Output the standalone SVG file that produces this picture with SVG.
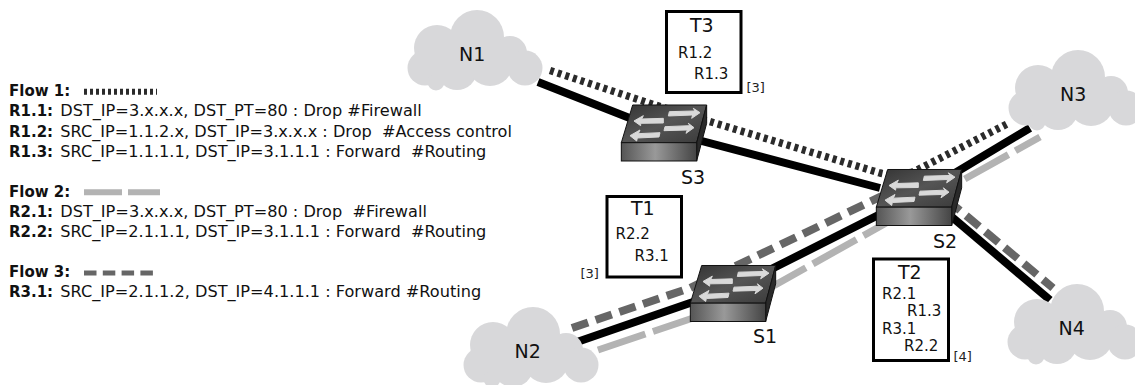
<svg xmlns="http://www.w3.org/2000/svg" width="1135" height="385" viewBox="0 0 1135 385">
<style>
text{font-family:"DejaVu Sans",sans-serif;fill:#111;white-space:pre}
.leg{font-size:16.15px}
.leg .b{font-weight:bold;font-size:15px}
.big{font-size:19px}
.rule{font-size:15px}
.note{font-size:13px;fill:#222}
.box{fill:#fff;stroke:#000;stroke-width:3}
.link{fill:none;stroke:#000;stroke-width:8}
.f1{fill:none;stroke:#2b2b2b;stroke-width:7.5;stroke-dasharray:4 4}
.f2{fill:none;stroke:#b3b3b3;stroke-width:7;stroke-dasharray:50 8}
.f3{fill:none;stroke:#666;stroke-width:8;stroke-dasharray:17 8}
</style>
<defs>
<linearGradient id="top" x1="0" y1="0" x2="1" y2="1"><stop offset="0" stop-color="#333"/><stop offset=".5" stop-color="#555"/><stop offset="1" stop-color="#3a3a3a"/></linearGradient>
<linearGradient id="front" x1="0" y1="0" x2="1" y2="0"><stop offset="0" stop-color="#555"/><stop offset=".45" stop-color="#999"/><stop offset="1" stop-color="#444"/></linearGradient>
<g id="cloud" fill="#d8d8da">
<circle cx="477" cy="37" r="27"/><circle cx="437" cy="48" r="23"/><circle cx="425" cy="68" r="17.5"/><circle cx="436" cy="82" r="8.5"/><circle cx="457" cy="70" r="20"/><circle cx="490" cy="63" r="23"/><circle cx="510" cy="53" r="17"/><circle cx="525" cy="68" r="17.5"/><rect x="430" y="40" width="85" height="35"/>
</g>
<g id="switch" transform="scale(.33333)" stroke="#111" stroke-width="3">
<path d="M68,30H290L260,143H34Z" fill="url(#top)"/>
<path d="M290,30V85L260,198V143Z" fill="#2a2a2a"/>
<rect x="34" y="143" width="226" height="55" fill="url(#front)"/>
<g fill="#d9d9d9" stroke="#d9d9d9" stroke-width="3">
<path d="M178,50L255,48L250,40L270,53L245,70L248,60L175,63Z"/>
<path d="M160,70L95,72L100,62L72,78L92,92L92,85L160,84Z"/>
<path d="M165,95L240,92L235,85L252,98L228,115L232,105L162,107Z"/>
<path d="M150,113L85,116L90,105L60,122L80,138L82,129L147,126Z"/>
</g>
</g>
</defs>
<g id="legend">
<text class="leg" x="9" y="96"><tspan class="b">Flow 1:</tspan></text>
<path class="f1" style="stroke-width:6;stroke-dasharray:3 3" d="M84,91.7H157"/>
<text class="leg" x="9" y="116"><tspan class="b">R1.1:</tspan><tspan dx="2"> DST_IP=3.x.x.x, DST_PT=80 : Drop #Firewall</tspan></text>
<text class="leg" x="9" y="136.5"><tspan class="b">R1.2:</tspan><tspan dx="2"> SRC_IP=1.1.2.x, DST_IP=3.x.x.x : Drop  #Access control</tspan></text>
<text class="leg" x="9" y="157"><tspan class="b">R1.3:</tspan><tspan dx="2"> SRC_IP=1.1.1.1, DST_IP=3.1.1.1 : Forward  #Routing</tspan></text>
<text class="leg" x="9" y="197"><tspan class="b">Flow 2:</tspan></text>
<path class="f2" style="stroke-width:6;stroke-dasharray:38 6" d="M84,192.3H160"/>
<text class="leg" x="9" y="216.5"><tspan class="b">R2.1:</tspan><tspan dx="2"> DST_IP=3.x.x.x, DST_PT=80 : Drop  #Firewall</tspan></text>
<text class="leg" x="9" y="237"><tspan class="b">R2.2:</tspan><tspan dx="2"> SRC_IP=2.1.1.1, DST_IP=3.1.1.1 : Forward  #Routing</tspan></text>
<text class="leg" x="9" y="277"><tspan class="b">Flow 3:</tspan></text>
<path class="f3" style="stroke-width:5;stroke-dasharray:12.5 6.3" d="M84,273H154"/>
<text class="leg" x="9" y="297"><tspan class="b">R3.1:</tspan><tspan dx="2"> SRC_IP=2.1.1.2, DST_IP=4.1.1.1 : Forward #Routing</tspan></text>
</g>
<g id="connectors">
<path class="link" d="M538,82L660,130L880,188"/>
<path class="link" d="M577,342L690,303L728,291L920,194L1030,128"/>
<path class="link" d="M920,190L1050,300"/>
<path class="f1" d="M550,70.5L655,105L880,173Q900,178 917,170L1007,124"/>
<path class="f2" d="M598,350L693,318L775,285L1040,137"/>
<path class="f3" d="M572,328L690,288L880,197L957,208L1053,288"/>
</g>
<g id="N1"><use href="#cloud"/><text class="big" x="459" y="61">N1</text></g>
<g id="N2"><use href="#cloud" transform="translate(56,297)"/><text class="big" x="514.5" y="358">N2</text></g>
<g id="N3"><use href="#cloud" transform="translate(601,40)"/><text class="big" x="1060" y="101">N3</text></g>
<g id="N4"><use href="#cloud" transform="translate(600,274)"/><text class="big" x="1058.5" y="335">N4</text></g>
<g id="S3"><use href="#switch" transform="translate(610,95)"/><text class="big" x="681" y="184">S3</text></g>
<g id="S2"><use href="#switch" transform="translate(865,159.5)"/><text class="big" x="933" y="248">S2</text></g>
<g id="S1"><use href="#switch" transform="translate(679,255.5)"/><text class="big" x="753" y="343">S1</text></g>
<g id="T3"><rect class="box" x="666.5" y="11.5" width="74.5" height="81"/><text class="big" x="690" y="32">T3</text><text class="rule" x="678" y="57.5">R1.2</text><text class="rule" x="694" y="79">R1.3</text><text class="note" x="746.5" y="92">[3]</text></g>
<g id="T1"><rect class="box" x="607" y="196.5" width="74.5" height="80.5"/><text class="big" x="631" y="215">T1</text><text class="rule" x="615.5" y="239">R2.2</text><text class="rule" x="634.5" y="261">R3.1</text><text class="note" x="580.5" y="277.5">[3]</text></g>
<g id="T2"><rect class="box" x="873.5" y="259" width="75" height="101.5"/><text class="big" x="898" y="278.5">T2</text><text class="rule" x="882" y="298.5">R2.1</text><text class="rule" x="907" y="316">R1.3</text><text class="rule" x="882" y="334">R3.1</text><text class="rule" x="904" y="351">R2.2</text><text class="note" x="953.5" y="360.5">[4]</text></g>
</svg>
